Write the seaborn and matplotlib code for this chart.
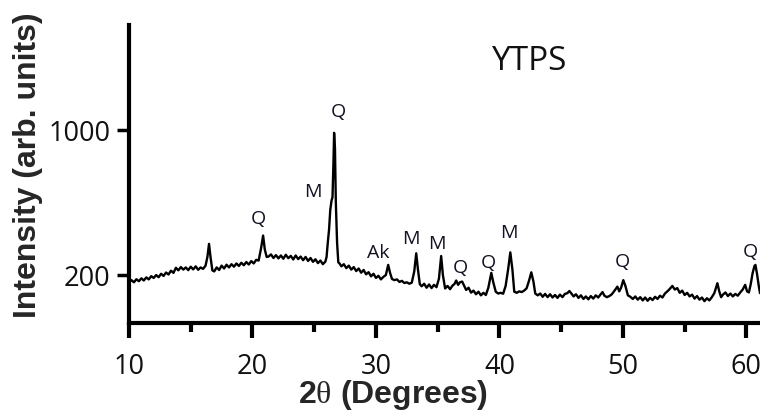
import matplotlib
matplotlib.use("Agg")
import matplotlib.pyplot as plt
import seaborn as sns
import pandas as pd

# ---------------- data ----------------
two_theta = [
    10.0, 10.2, 10.4, 10.6, 10.8, 11.0, 11.2, 11.4, 11.6, 11.8,
    12.0, 12.2, 12.4, 12.6, 12.8, 13.0, 13.2, 13.4, 13.6, 13.8,
    14.0, 14.2, 14.4, 14.6, 14.8, 15.0, 15.2, 15.4, 15.6, 15.8,
    16.0, 16.2, 16.35, 16.48, 16.6, 16.75, 16.9, 17.1, 17.3, 17.5,
    17.7, 17.9, 18.1, 18.3, 18.5, 18.7, 18.9, 19.1, 19.3, 19.5,
    19.7, 19.9, 20.1, 20.3, 20.5, 20.7, 20.86, 21.0, 21.15, 21.3,
    21.5, 21.7, 21.9, 22.1, 22.3, 22.5, 22.7, 22.9, 23.1, 23.3,
    23.5, 23.7, 23.9, 24.1, 24.3, 24.5, 24.7, 24.9, 25.1, 25.3,
    25.5, 25.7, 25.9, 26.0, 26.1, 26.2, 26.3, 26.4, 26.48, 26.55,
    26.61, 26.68, 26.75, 26.85, 26.95, 27.05, 27.2, 27.4, 27.6, 27.8,
    28.0, 28.2, 28.4, 28.6, 28.8, 29.0, 29.2, 29.4, 29.6, 29.8,
    30.0, 30.2, 30.4, 30.6, 30.8, 30.99, 31.15, 31.3, 31.5, 31.7,
    31.9, 32.1, 32.3, 32.5, 32.7, 32.9, 33.1, 33.26, 33.4, 33.55,
    33.7, 33.9, 34.1, 34.3, 34.5, 34.7, 34.9, 35.1, 35.28, 35.42,
    35.6, 35.8, 36.0, 36.2, 36.35, 36.5, 36.65, 36.8, 36.98, 37.15,
    37.3, 37.5, 37.7, 37.9, 38.1, 38.3, 38.5, 38.7, 38.9, 39.1,
    39.34, 39.5, 39.7, 39.9, 40.1, 40.3, 40.5, 40.7, 40.88, 41.05,
    41.2, 41.4, 41.6, 41.8, 42.0, 42.2, 42.4, 42.58, 42.75, 42.9,
    43.1, 43.3, 43.5, 43.7, 43.9, 44.1, 44.3, 44.5, 44.7, 44.9,
    45.1, 45.3, 45.5, 45.66, 45.85, 46.0, 46.2, 46.4, 46.6, 46.8,
    47.0, 47.2, 47.4, 47.6, 47.8, 48.0, 48.2, 48.35, 48.5, 48.7,
    48.9, 49.1, 49.3, 49.55, 49.7, 49.85, 50.03, 50.2, 50.4, 50.6,
    50.8, 51.0, 51.2, 51.4, 51.6, 51.8, 52.0, 52.2, 52.4, 52.6,
    52.8, 53.0, 53.2, 53.4, 53.6, 53.8, 54.0, 54.2, 54.4, 54.6,
    54.8, 55.0, 55.2, 55.4, 55.6, 55.8, 56.0, 56.2, 56.4, 56.6,
    56.8, 57.0, 57.2, 57.4, 57.65, 57.8, 57.95, 58.1, 58.3, 58.5,
    58.7, 58.9, 59.1, 59.3, 59.5, 59.7, 59.9, 60.05, 60.2, 60.35,
    60.5, 60.65, 60.73, 60.85, 61.0, 61.1,
]

intensity = [
    158, 172, 160, 177, 166, 182, 170, 187, 176, 194,
    184, 200, 188, 207, 195, 214, 203, 224, 212, 240,
    226, 244, 230, 242, 227, 246, 231, 248, 229, 242,
    234, 252, 300, 372, 300, 226, 220, 242, 228, 252,
    236, 257, 242, 260, 246, 264, 250, 268, 254, 272,
    258, 277, 264, 284, 280, 350, 418, 340, 300, 302,
    314, 294, 310, 292, 308, 290, 312, 293, 306, 286,
    308, 288, 302, 282, 300, 278, 294, 273, 287, 266,
    280, 260, 274, 300, 380, 450, 560, 610, 630, 800,
    985, 900, 600, 380, 270, 264, 248, 260, 238, 252,
    230, 244, 222, 236, 213, 228, 204, 216, 193, 207,
    184, 196, 176, 190, 200, 256, 210, 178, 172, 176,
    162, 168, 156, 160, 152, 158, 220, 320, 230, 150,
    138, 152, 130, 148, 128, 146, 133, 180, 305, 200,
    126, 140, 122, 142, 150, 170, 146, 160, 164, 140,
    118, 130, 103, 114, 94, 108, 88, 102, 90, 130,
    212, 160, 108, 98, 102, 97, 140, 230, 325, 230,
    108, 102, 110, 106, 114, 127, 170, 215, 165, 98,
    88, 98, 80, 96, 78, 94, 76, 90, 74, 92,
    78, 96, 100, 112, 96, 82, 94, 74, 88, 68,
    82, 66, 84, 70, 88, 76, 94, 106, 86, 78,
    84, 94, 112, 136, 110, 130, 172, 140, 88, 80,
    68, 82, 64, 78, 60, 76, 58, 74, 62, 80,
    68, 86, 76, 98, 110, 124, 140, 120, 128, 102,
    114, 90, 102, 82, 92, 70, 84, 64, 76, 56,
    72, 60, 78, 100, 155, 110, 78, 92, 104, 84,
    98, 82, 96, 86, 104, 120, 146, 110, 104, 150,
    210, 250, 256, 210, 140, 100,
]

# phase labels (Q = quartz, M = mullite, Ak = akermanite)
peak_labels = ["Q", "M", "Q", "Ak", "M", "M", "Q", "Q", "M", "Q", "Q"]
peak_label_x = [26.94, 24.91, 20.45, 30.18, 32.85, 34.96, 36.82, 39.09, 40.79, 49.95, 60.32]
peak_label_y = [1100, 658, 509, 321, 399, 371, 239, 266, 432, 272, 327]

x_major_ticks = [10, 20, 30, 40, 50, 60]
x_minor_ticks = [15, 25, 35, 45, 55]
y_ticks = [200, 1000]
sample_name = "YTPS"

# ---------------- styling ----------------
sns.set_theme(style="ticks")
plt.rcParams["font.family"] = ["Open Sans", "DejaVu Sans"]
plt.rcParams["mathtext.fontset"] = "custom"
plt.rcParams["mathtext.rm"] = "Liberation Serif"

df = pd.DataFrame({"two_theta": two_theta, "intensity": intensity})

fig = plt.figure(figsize=(7.6, 4.12), dpi=100)
ax = fig.add_axes([129 / 760, (412 - 322.7) / 412, 631 / 760, (322.7 - 25) / 412])

sns.lineplot(data=df, x="two_theta", y="intensity", ax=ax,
             color="black", linewidth=1.7, estimator=None, sort=False)

ax.set_xlim(10, 61.1)
ax.set_ylim(-63, 1580)

ax.set_xticks(x_major_ticks)
ax.set_xticks(x_minor_ticks, minor=True)
ax.set_yticks(y_ticks)
ax.set_xticklabels([str(t) for t in x_major_ticks])
ax.set_yticklabels([str(t) for t in y_ticks])

for side in ["top", "right"]:
    ax.spines[side].set_visible(False)
for side in ["left", "bottom"]:
    ax.spines[side].set_linewidth(3)
    ax.spines[side].set_color("black")

ax.tick_params(axis="x", which="major", direction="out", length=11, width=3,
               pad=10.5, labelsize=19.5, color="black", labelcolor="#111111")
ax.tick_params(axis="x", which="minor", direction="out", length=6.5, width=3,
               color="black")
ax.tick_params(axis="y", which="major", direction="out", length=8.5, width=2.5,
               pad=5, labelsize=19.5, color="black", labelcolor="#111111")

ax.set_xlabel(r"2$\mathrm{\theta}$ (Degrees)", family=["Liberation Sans", "DejaVu Sans"],
              fontweight="bold", fontsize=23)
ax.xaxis.set_label_coords((393.5 - 129) / 631, (322.7 - 395.5) / 297.7)
ax.xaxis.label.set_va("center")

ax.set_ylabel("Intensity (arb. units)", family=["Liberation Sans", "DejaVu Sans"],
              fontweight="bold", fontsize=23)
ax.yaxis.set_label_coords((28 - 129) / 631, (322.7 - 165) / 297.7)
ax.yaxis.label.set_va("center")

for lab, lx, ly in zip(peak_labels, peak_label_x, peak_label_y):
    ax.text(lx, ly, lab, ha="center", va="center", fontsize=14, color="#111122")

ax.text((530 - 129) / 631, (322.7 - 61.5) / 297.7, sample_name, transform=ax.transAxes,
        ha="center", va="center", fontsize=24, color="#111111")

fig.savefig("out.png", dpi=100)
